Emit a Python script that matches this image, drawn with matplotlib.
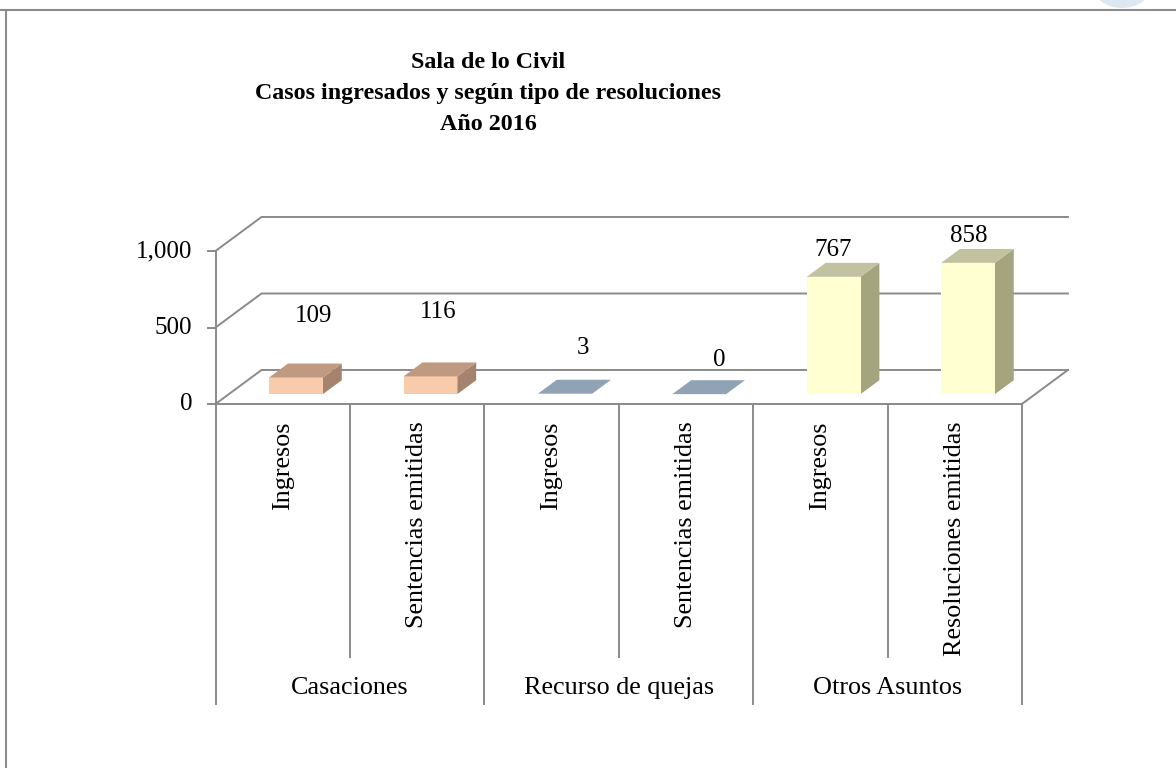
import matplotlib
matplotlib.use("Agg")
import matplotlib.pyplot as plt
from matplotlib.patches import Polygon, Ellipse
from matplotlib.lines import Line2D

# ---------------- data ----------------
title_lines = ["Sala de lo Civil",
               "Casos ingresados y según tipo de resoluciones",
               "Año 2016"]
groups = ["Casaciones", "Recurso de quejas", "Otros Asuntos"]
categories = ["Ingresos", "Sentencias emitidas",
              "Ingresos", "Sentencias emitidas",
              "Ingresos", "Resoluciones emitidas"]
values = [109, 116, 3, 0, 767, 858]
value_labels = ["109", "116", "3", "0", "767", "858"]
y_ticks = [0, 500, 1000]
y_tick_labels = ["0", "500", "1,000"]

# ---------------- style ----------------
group_of_cat = [0, 0, 1, 1, 2, 2]
front_cols = ["#F8CBAD", "#8FA3B5", "#FFFFD2"]
top_cols = ["#C09A80", "#8FA3B5", "#C2C2A0"]
side_cols = ["#A6836E", "#7F92A3", "#A4A47F"]
# label placement tweaks (pixels, relative to the bar's top-back edge)
lab_dx = [31, 21, 31, 33, 13, 14]
lab_dy = [48, 50, 32, 20, 13, 13]

W, H, DPI = 1176, 768, 100
FONT = ["Liberation Serif", "DejaVu Serif"]
plt.rcParams["font.family"] = FONT
GRID = "#8A8A8A"
LW = 1.4
FS = 18.0
FS_CAT = 18.8

# pixel geometry of the chart frame
X0 = 215.5          # px of category 0 left edge
PXC = 134.4         # px per category
Y0 = 404.0          # px (from top) of value 0 on front plane
PXV = 0.153         # px per value unit
DXP, DYP = 46.0, 34.0   # depth offset of back wall in px

DX = DXP / PXC
DY = DYP / PXV
D_FRONT, D_BACK = 0.29, 0.70
BAR_W = 0.40

fig = plt.figure(figsize=(W / DPI, H / DPI), dpi=DPI)
ax = fig.add_axes([0, 0, 1, 1])
ax.set_xlim(-X0 / PXC, (W - X0) / PXC)
ax.set_ylim(-(H - Y0) / PXV, Y0 / PXV)
ax.axis("off")

n = len(values)

def P(x, v, d):
    return (x + d * DX, v + d * DY)

# back wall gridlines + left side wall
for t in y_ticks:
    pts = [P(0, t, 0), P(0, t, 1), P(n, t, 1)]
    ax.plot([p[0] for p in pts], [p[1] for p in pts], color=GRID, lw=LW,
            solid_joinstyle="miter", zorder=1)
# floor front edge and right edge
pts = [P(0, 0, 0), P(n, 0, 0), P(n, 0, 1)]
ax.plot([p[0] for p in pts], [p[1] for p in pts], color=GRID, lw=LW, zorder=1)
# value axis line and ticks
ax.plot([0, 0], [0, y_ticks[-1]], color=GRID, lw=LW, zorder=1)
tick_len = 8 / PXC
for t, lab in zip(y_ticks, y_tick_labels):
    ax.plot([-tick_len, 0], [t, t], color=GRID, lw=LW, zorder=1)
    ax.text(-23 / PXC, t, lab, ha="right", va="center", fontsize=FS,
            color="black")

# category axis separators
sub_end = -(657 - Y0) / PXV
grp_end = -(704 - Y0) / PXV
for k in range(n + 1):
    end = grp_end if k % 2 == 0 else sub_end
    ax.plot([k, k], [0, end], color=GRID, lw=LW, zorder=1)

# bars (front faces with ax.bar, top/side faces as polygons)
centers = [i + 0.5 for i in range(n)]
front_x = [c + D_FRONT * DX for c in centers]
ax.bar(front_x, values, width=BAR_W, bottom=D_FRONT * DY,
       color=[front_cols[g] for g in group_of_cat], linewidth=0, zorder=3)
for i, v in enumerate(values):
    g = group_of_cat[i]
    xl = centers[i] - BAR_W / 2
    xr = centers[i] + BAR_W / 2
    top = [P(xl, v, D_FRONT), P(xr, v, D_FRONT), P(xr, v, D_BACK), P(xl, v, D_BACK)]
    side = [P(xr, 0, D_FRONT), P(xr, v, D_FRONT), P(xr, v, D_BACK), P(xr, 0, D_BACK)]
    ax.add_patch(Polygon(side, closed=True, facecolor=side_cols[g], lw=0, zorder=2))
    ax.add_patch(Polygon(top, closed=True, facecolor=top_cols[g], lw=0, zorder=4))
    ax.annotate(value_labels[i], xy=(centers[i], v + D_BACK * DY),
                xytext=(lab_dx[i], lab_dy[i]), textcoords="offset pixels",
                ha="center", va="center", fontsize=FS, color="black", zorder=5)

# category labels (rotated)
lab_top = (Y0 - 421) / PXV
for c, lab in zip(centers, categories):
    ax.text(c, lab_top, lab, rotation=90, ha="center", va="top",
            fontsize=FS_CAT, color="black")
# group labels
grp_y = -(688 - Y0) / PXV
for j, gname in enumerate(groups):
    ax.text(2 * j + 1, grp_y, gname, ha="center", va="center",
            fontsize=FS_CAT, color="black")

# title
for k, line in enumerate(title_lines):
    fig.text(488 / W, 1 - (63 + 31 * k) / H, line, ha="center", va="center",
             fontsize=17.3, fontweight="bold", color="black")

# outer frame remnants and decoration
fig.add_artist(Line2D([0, 1], [1 - 10 / H, 1 - 10 / H], color="#8C8C8C", lw=1.5))
fig.add_artist(Line2D([6 / W, 6 / W], [0, 1 - 10 / H], color="#8C8C8C", lw=1.5))
fig.add_artist(Ellipse((1122 / W, 1 - (-12) / H), 56 / W, 40 / H,
                       facecolor="#DDE7F2", edgecolor="none",
                       transform=fig.transFigure, zorder=0))

fig.savefig("out.png", dpi=DPI)
